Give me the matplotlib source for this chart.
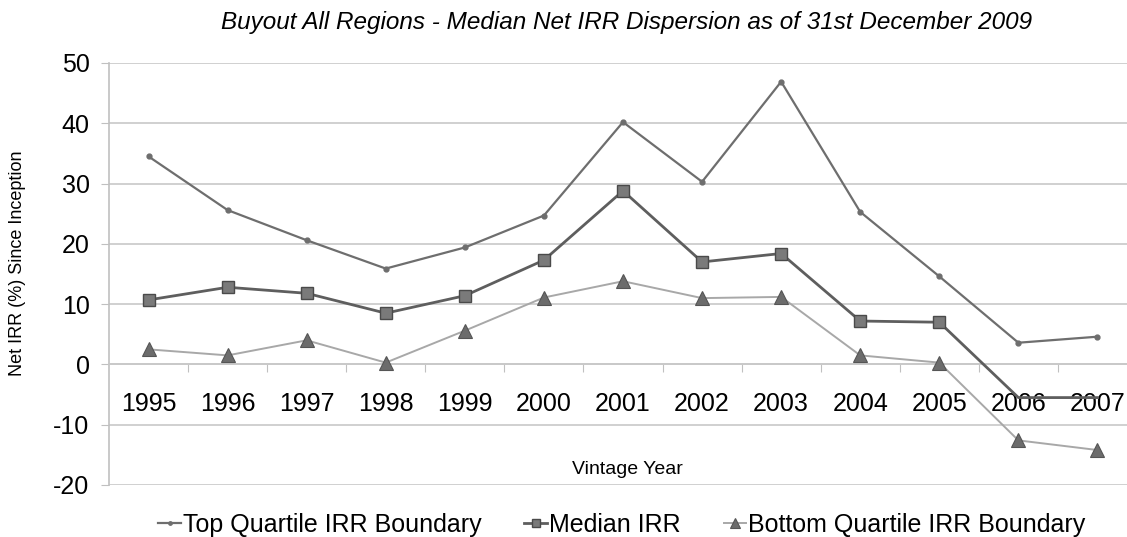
import matplotlib
matplotlib.use("Agg")
import matplotlib.pyplot as plt

years = ["1995", "1996", "1997", "1998", "1999", "2000", "2001",
         "2002", "2003", "2004", "2005", "2006", "2007"]
top_quartile = [34.5, 25.6, 20.6, 15.9, 19.4, 24.7, 40.2, 30.3, 46.9, 25.3, 14.6, 3.6, 4.6]
median_irr = [10.7, 12.8, 11.8, 8.5, 11.4, 17.3, 28.8, 17.0, 18.4, 7.2, 7.0, -5.5, -5.5]
bottom_quartile = [2.5, 1.5, 4.0, 0.3, 5.6, 11.1, 13.8, 11.0, 11.2, 1.5, 0.3, -12.6, -14.2]
y_ticks = [-20, -10, 0, 10, 20, 30, 40, 50]

plt.rcParams['font.family'] = ['Liberation Sans', 'DejaVu Sans']
plt.rcParams['axes.unicode_minus'] = False

fig = plt.figure(figsize=(11.27, 5.37), dpi=100)
ax = fig.add_axes([109/1127, 1 - 485/537, (1137-109)/1127, (485-63)/537])

x = list(range(len(years)))
ax.plot(x, top_quartile, color='#6e6e6e', lw=1.6, marker='o', ms=3.5,
        mfc='#6e6e6e', mec='#6e6e6e', label='Top Quartile IRR Boundary', zorder=3)
ax.plot(x, median_irr, color='#5e5e5e', lw=2.0, marker='s', ms=9,
        mfc='#7a7a7a', mec='#4a4a4a', mew=1.0, markevery=list(range(len(years) - 2)),
        label='Median IRR', zorder=3)
ax.plot(x, bottom_quartile, color='#a8a8a8', lw=1.4, marker='^', ms=10,
        mfc='#6c6c6c', mec='#555555', mew=0.8, label='Bottom Quartile IRR Boundary', zorder=3)

ax.set_xlim(-0.5, len(years) - 0.5)
ax.set_ylim(-20, 50)
ax.set_yticks(y_ticks)
ax.yaxis.grid(True, color='#c8c8c8', lw=1.2)
ax.set_axisbelow(True)
for s in ['top', 'right']:
    ax.spines[s].set_visible(False)
ax.spines['bottom'].set_position(('data', 0))
ax.spines['bottom'].set_color('#c8c8c8')
ax.spines['bottom'].set_linewidth(1.2)
ax.spines['left'].set_color('#c0c0c0')
ax.spines['left'].set_linewidth(1.2)

ax.set_xticks([i + 0.5 for i in range(len(years) - 1)])
ax.set_xticklabels([])
ax.set_xticks(x, minor=True)
ax.set_xticklabels(years, minor=True, fontsize=18)
ax.tick_params(axis='x', which='major', length=6, color='#c0c0c0', direction='out')
ax.tick_params(axis='x', which='minor', length=0, pad=20)
ax.tick_params(axis='y', length=6, color='#c0c0c0', labelsize=18, pad=8)

fig.text(18/1127, 1 - 263/537, 'Net IRR (%) Since Inception', rotation=90,
         ha='center', va='center', fontsize=13)
fig.text(627/1127, 1 - 469/537, 'Vintage Year', ha='center', va='center', fontsize=14)
fig.text(627/1127, 1 - 22/537, 'Buyout All Regions - Median Net IRR Dispersion as of 31st December 2009',
         ha='center', va='center', fontsize=17.5, style='italic')

leg = fig.legend(loc='center', bbox_to_anchor=(622/1127, 1 - 525/537), ncol=3,
                 frameon=False, fontsize=18, handlelength=0.9, handletextpad=0.1,
                 columnspacing=1.7, markerscale=0.7)

fig.savefig('out.png', dpi=100)
